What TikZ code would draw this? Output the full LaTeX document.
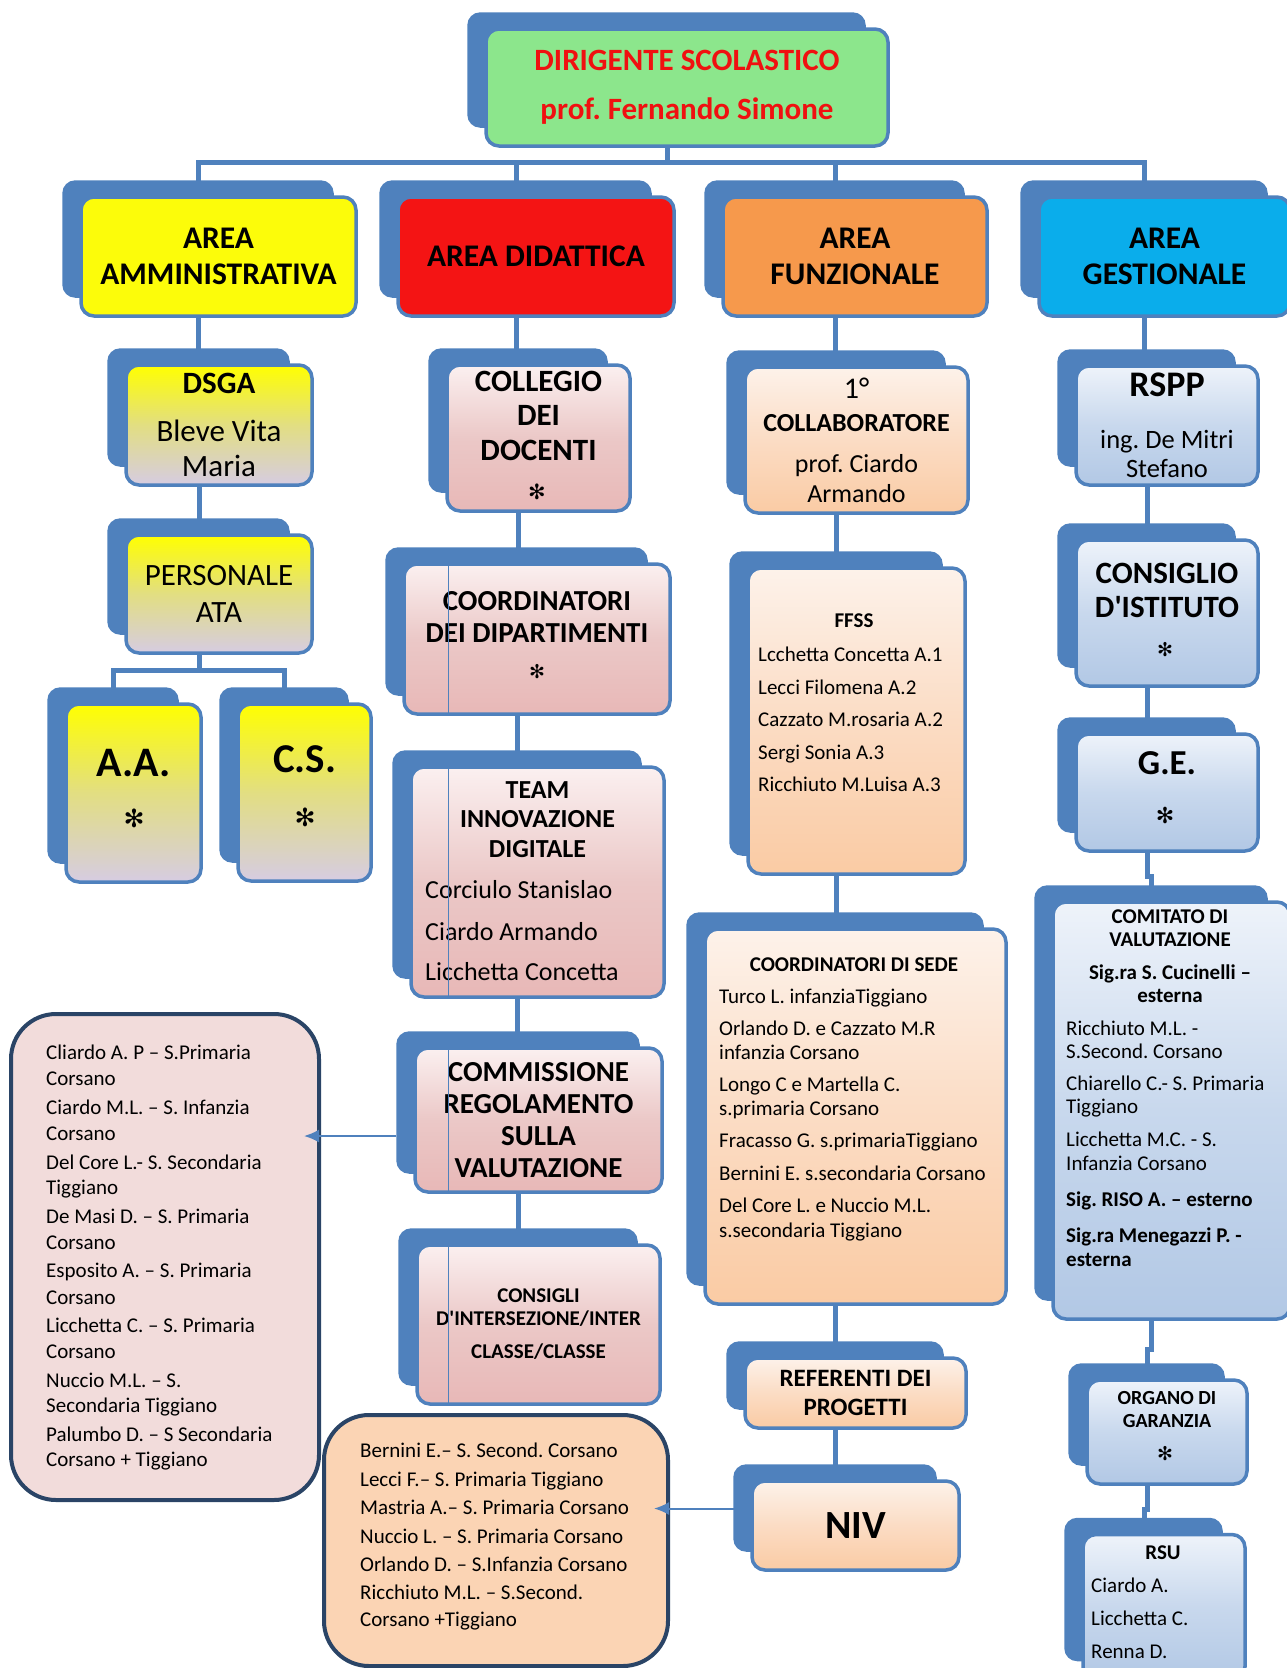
\documentclass[tikz,border=0pt]{standalone}
\usepackage{fontspec}
\setmainfont{Carlito}
\newfontfamily\symfont{DejaVu Sans}
\usetikzlibrary{backgrounds,calc,arrows.meta}

\definecolor{cardblue}{HTML}{4F81BD}
\definecolor{navy}{HTML}{2A4466}
\definecolor{dirgreen}{HTML}{8CE68C}
\definecolor{dirred}{HTML}{F01010}
\definecolor{areayellow}{HTML}{FCFC0A}
\definecolor{areared}{HTML}{F41414}
\definecolor{areaorange}{HTML}{F6994C}
\definecolor{areacyan}{HTML}{0AADEB}
\definecolor{commpink}{HTML}{F2DCDB}
\definecolor{nivpeach}{HTML}{FBD4B4}

\newcommand{\fs}[2]{\fontsize{#1}{#2}\selectfont}
\newcommand{\ap}{\textquotesingle}
\newcommand{\gap}{\phantom{*}}

\tikzset{
  card/.style={draw=cardblue, line width=3.5pt, rounded corners=13pt, inner sep=0pt, align=center},
  box/.style 2 args={minimum width=#1, minimum height=#2},
  cardback/.style={fill=cardblue, rounded corners=13pt},
  conn/.style={draw=cardblue, line width=5pt},
  arr/.style={draw=cardblue, line width=2pt, -{Latex[length=15pt,width=13pt]}},
  listbox/.style={draw=navy, line width=4pt, rounded corners=45pt},
  entry/.style={anchor=mid west, inner sep=0pt, yshift=-5.3pt},
  starmark/.style={inner sep=0pt, font=\symfont\fs{#1}{#1}},
  yellowfill/.style={top color=yellow, bottom color={rgb,255:red,214;green,204;blue,226}, middle color={rgb,255:red,226;green,222;blue,130}},
  pinkfill/.style={top color={rgb,255:red,251;green,240;blue,240}, bottom color={rgb,255:red,232;green,184;blue,183}, middle color={rgb,255:red,235;green,200;blue,199}},
  peachfill/.style={top color={rgb,255:red,253;green,242;blue,234}, bottom color={rgb,255:red,250;green,203;blue,164}, middle color={rgb,255:red,251;green,220;blue,196}},
  bluefill/.style={top color={rgb,255:red,238;green,243;blue,250}, bottom color={rgb,255:red,178;green,200;blue,229}, middle color={rgb,255:red,200;green,216;blue,237}}
}

\begin{document}
\frenchspacing
\begin{tikzpicture}[x=1pt,y=-1pt]
\useasboundingbox (0,0) rectangle (1286,1668);

% dirigente and the four areas
\node[card, fill=dirgreen, box={402}{117}, text=dirred, font=\bfseries\fs{31}{49}] (dir) at (687,87.5) {DIRIGENTE SCOLASTICO\\prof. Fernando Simone};
\node[card, fill=areayellow, box={275}{119}, font=\bfseries\fs{31.5}{36}] (amm) at (218.5,256.5) {AREA\\AMMINISTRATIVA};
\node[card, fill=areared, box={276}{119}, font=\bfseries\fs{31.5}{36}] (did) at (536,256.5) {AREA DIDATTICA};
\node[card, fill=areaorange, box={264}{119}, font=\bfseries\fs{31.5}{36}] (fun) at (855,256.5) {AREA\\FUNZIONALE};
\node[card, fill=areacyan, box={251}{119}, font=\bfseries\fs{31.5}{36}] (ges) at (1164.5,256.5) {AREA\\GESTIONALE};

% area amministrativa
\node[card, yellowfill, box={186}{120}, font=\fs{31}{35}] (dsga) at (219,425) {\textbf{DSGA}\\[13pt]Bleve Vita\\Maria};
\node[card, yellowfill, box={186}{118}, font=\fs{31}{37}] (ata) at (219,594) {PERSONALE\\ATA};
\node[card, yellowfill, box={135}{178}, font=\bfseries\fs{42}{57}] (aa) at (133.5,793) {A.A.\\[4pt]{\fs{34}{57}\gap}};
\node[card, yellowfill, box={133}{177}, font=\bfseries\fs{41}{57}] (cs) at (304.5,792.5) {C.S.\\[10pt]{\fs{34}{57}\gap}};
\node[starmark=25] (aa-s) at (134,818) {✻};
\node[starmark=25] (cs-s) at (305,817) {✻};

% area didattica
\node[card, pinkfill, box={183}{146}, font=\bfseries\fs{31}{34.5}] (coll) at (538.5,438) {COLLEGIO\\DEI\\DOCENTI\\[10pt]{\fs{26}{34}\gap}};
\node[starmark=21] (coll-s) at (537,492) {✻};
\node[card, pinkfill, box={266}{150}, font=\bfseries\fs{29}{32}] (cdip) at (537,639) {COORDINATORI\\DEI DIPARTIMENTI\\[12pt]{\mdseries\fs{24}{32}\gap}};
\node[starmark=19] (cdip-s) at (537,672) {✻};
\node[card, pinkfill, box={253}{230}] (team) at (537.5,882) {};
\node[font=\bfseries\fs{26}{29.5}, align=center] (team-t) at (537.5,819.5) {TEAM\\INNOVAZIONE\\DIGITALE};
\foreach \y/\t [count=\i] in {891/Corciulo Stanislao, 933/Ciardo Armando, 973/Licchetta Concetta}
  \node[entry, font=\fs{26}{30}] (team-\i) at (425,\y) {\t};
\node[card, pinkfill, box={247}{144}, font=\bfseries\fs{29}{32}] (comm) at (538.5,1120) {COMMISSIONE\\REGOLAMENTO\\SULLA\\VALUTAZIONE};
\node[card, pinkfill, box={243}{159}, font=\bfseries\fs{21}{23}] (cons) at (538.5,1324.5) {CONSIGLI\\D\ap INTERSEZIONE/INTER\\[10pt]CLASSE/CLASSE};

\node[listbox, fill=commpink, box={308}{486}] (commlist) at (165,1257) {};
\foreach \y/\t [count=\i] in {1052/Cliardo A. P – S.Primaria, 1078/Corsano, 1107/Ciardo M.L. – S. Infanzia, 1133/Corsano,
    1162/Del Core L.- S. Secondaria, 1187/Tiggiano, 1216/De Masi D. – S. Primaria, 1242/Corsano,
    1270/Esposito A. –  S. Primaria, 1297/Corsano, 1325/Licchetta C. – S.  Primaria, 1351/Corsano,
    1380/Nuccio M.L. – S., 1405/Secondaria Tiggiano, 1434/Palumbo D. – S Secondaria, 1459/Corsano + Tiggiano}
  \node[entry, font=\fs{21}{25}] (cl-\i) at (46,\y) {\t};

\node[listbox, fill=nivpeach, box={344}{251}] (nivlist) at (496,1540.5) {};
\foreach \y/\t [count=\i] in {1450/Bernini E.– S. Second. Corsano, 1479/Lecci F.– S. Primaria Tiggiano,
    1507/Mastria A.– S. Primaria Corsano, 1536/Nuccio L. – S. Primaria Corsano, 1564/Orlando D. – S.Infanzia Corsano,
    1592/Ricchiuto M.L. – S.Second., 1619/Corsano +Tiggiano}
  \node[entry, font=\fs{21}{25}] (nl-\i) at (360,\y) {\t};

% area funzionale
\node[card, peachfill, box={223}{146}, font=\fs{26}{30}] (coll1) at (856.5,440) {{\fs{30}{30}1°}\\[3pt]{\bfseries COLLABORATORE}\\[11pt]prof. Ciardo\\Armando};
\node[card, peachfill, box={217}{306}] (ffss) at (856.5,721) {};
\node[font=\bfseries\fs{21}{24}] (ffss-t) at (854,621) {FFSS};
\foreach \y/\t [count=\i] in {654/Lcchetta Concetta A.1, 687/Lecci Filomena A.2, 719/Cazzato M.rosaria A.2, 752/Sergi Sonia A.3, 784/Ricchiuto M.Luisa A.3}
  \node[entry, font=\fs{21}{24}] (ffss-\i) at (758,\y) {\t};
\node[card, peachfill, box={301}{375}] (csede) at (855.5,1116.5) {};
\node[font=\bfseries\fs{21}{24}] (csede-t) at (854,965) {COORDINATORI DI SEDE};
\foreach \y/\t [count=\i] in {996/Turco L. infanziaTiggiano, 1028/Orlando D. e Cazzato M.R, 1052/infanzia Corsano,
    1084/Longo C e Martella C., 1108/s.primaria Corsano, 1140/Fracasso G. s.primariaTiggiano,
    1173/Bernini E. s.secondaria Corsano, 1205/Del Core L. e Nuccio M.L., 1230/s.secondaria Tiggiano}
  \node[entry, font=\fs{21}{24}] (csede-\i) at (719,\y) {\t};
\node[card, peachfill, box={221}{70}, font=\bfseries\fs{25}{29}] (ref) at (855.5,1393) {REFERENTI DEI\\PROGETTI};
\node[card, peachfill, box={207}{89}, font=\bfseries\fs{40}{48}] (niv) at (855.5,1525.5) {NIV};

% area gestionale
\node[card, bluefill, box={182}{119}, font=\fs{26.5}{29}] (rspp) at (1167,425.5) {{\bfseries\fs{36}{29}RSPP}\\[23pt]ing. De Mitri\\Stefano};
\node[card, bluefill, box={182}{146}, font=\bfseries\fs{31}{34}] (cdi) at (1167,613) {CONSIGLIO\\D\ap ISTITUTO\\[11pt]{\mdseries\fs{26}{34}\gap}};
\node[starmark=19] (cdi-s) at (1165,650) {✻};
\node[card, bluefill, box={182}{117}, font=\bfseries\fs{35}{52}] (ge) at (1167,792.5) {G.E.\\[6pt]{\mdseries\fs{30}{52}\gap}};
\node[starmark=22] (ge-s) at (1165,815) {✻};
\node[card, bluefill, box={237}{417}] (cval) at (1171.5,1110.5) {};
\node[font=\bfseries\fs{21}{23.5}, align=center] (cval-t) at (1170,956) {COMITATO DI\\VALUTAZIONE\\[9pt]Sig.ra S. Cucinelli –\\esterna};
\foreach \y/\t [count=\i] in {1028/Ricchiuto M.L. -, 1051/S.Second. Corsano, 1083/Chiarello C.- S. Primaria, 1106/Tiggiano, 1139/Licchetta M.C. - S., 1163/Infanzia Corsano}
  \node[entry, font=\fs{21}{24}] (cval-\i) at (1066,\y) {\t};
\foreach \y/\t [count=\i] in {1199/Sig. RISO A. – esterno, 1235/Sig.ra Menegazzi P. -, 1259/esterna}
  \node[entry, font=\bfseries\fs{21}{24}] (cvalb-\i) at (1066,\y) {\t};
\node[card, bluefill, box={160}{104}, font=\bfseries\fs{20}{23}] (org) at (1167,1432) {ORGANO DI\\GARANZIA\\[23pt]\gap};
\node[starmark=19] (org-s) at (1165,1454) {✻};
\node[card, bluefill, box={162}{145}] (rsu) at (1164,1607) {};
\node[font=\bfseries\fs{21}{24}] (rsu-t) at (1163,1553) {RSU};
\foreach \y/\t [count=\i] in {1585/Ciardo A., 1618/Licchetta C., 1651/Renna D.}
  \node[entry, font=\fs{21}{24}] (rsu-\i) at (1091,\y) {\t};

% back cards and connectors
\begin{scope}[on background layer]
  \coordinate (bus) at (0,162);
  \coordinate (atabus) at (0,670);
  \draw[conn] ([xshift=-20pt]dir.south) -- ([xshift=-20pt]dir.south |- bus);
  \draw[conn] ([xshift=-20pt]amm.north) |- ([xshift=-20pt]ges.north |- bus) -- ([xshift=-20pt]ges.north);
  \draw[conn] ([xshift=-20pt]did.north) -- ([xshift=-20pt]did.north |- bus);
  \draw[conn] ([xshift=-20pt]fun.north) -- ([xshift=-20pt]fun.north |- bus);
  \foreach \a/\b in {amm/dsga, dsga/ata, did/coll, coll/cdip, cdip/team, team/comm, comm/cons,
      fun/coll1, coll1/ffss, ffss/csede, csede/ref, ref/niv, ges/rspp, rspp/cdi, cdi/ge}
    \draw[conn] ([xshift=-20pt]\a.south) -- ([xshift=-20pt]\a.south |- \b.north);
  \foreach \a/\b in {ge/cval, cval/org, org/rsu}
    \draw[conn] ([xshift=-20pt]\a.south) |- ($([xshift=-20pt]\a.south)!.5!([xshift=-20pt]\b.north)$) -| ([xshift=-20pt]\b.north);
  \draw[conn] ([xshift=-20pt]ata.south) -- ([xshift=-20pt]ata.south |- atabus);
  \draw[conn] ([xshift=-20pt]aa.north) |- ([xshift=-20pt]cs.north |- atabus) -- ([xshift=-20pt]cs.north);
  \foreach \n in {dir,amm,did,fun,ges,dsga,ata,aa,cs,coll,cdip,team,comm,cons,coll1,ffss,csede,ref,niv,rspp,cdi,ge,cval,org,rsu}
    \fill[cardback] ([xshift=-17pt,yshift=15pt]\n.north west) rectangle ([xshift=-24pt,yshift=20pt]\n.south east);
\end{scope}

% thin guide line through the didattica cards
\coordinate (guide) at (448,0);
\foreach \n in {cdip,team,comm,cons}
  \draw[cardblue, line width=0.8pt] ([yshift=-2pt]guide |- \n.north) -- ([yshift=2pt]guide |- \n.south);

% arrows to the member lists
\draw[arr] ([xshift=-17pt,yshift=-16pt]comm.west) -- ([xshift=-17pt,yshift=-16pt]comm.west -| commlist.east);
\draw[arr] ([xshift=-16pt,yshift=17pt]niv.west) -- ([xshift=-16pt,yshift=17pt]niv.west -| nivlist.east);
\end{tikzpicture}
\end{document}
